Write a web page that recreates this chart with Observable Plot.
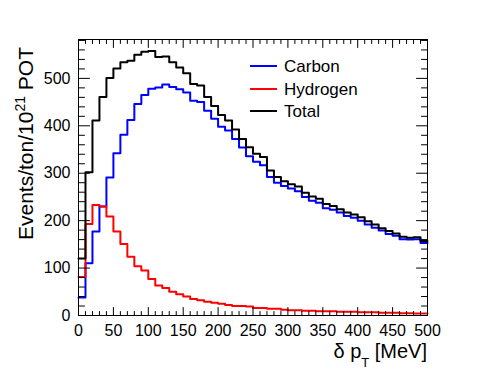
<!DOCTYPE html>
<html><head><meta charset="utf-8">
<script src="https://cdn.jsdelivr.net/npm/d3@7"></script>
<script src="https://cdn.jsdelivr.net/npm/@observablehq/plot@0.6"></script>
<style>
body{margin:0;background:#fff;}
#chart{width:491px;height:371px;}
svg{font-family:"Liberation Sans",Arial,sans-serif;}
</style></head><body><div id="chart"></div>
<script>
// bin edges of the δpT histogram (10 MeV bins)
const binEdges = d3.range(0, 510, 10);
const carbon = [38,110,177,230,291,342,381,412,446,465,478,481,487,482,477,470,453,450,432,415,398,390,372,354,336,324,317,292,280,273,268,262,250,242,238,226,223,217,210,206,200,192,185,179,172,168,161,160,161,153];
const hydrogen = [81,193,233,230,209,177,151,124,104,95,77,63,58,50,45,40,35,32,29,27,25,22,20,20,19,16,16,14,14,12,11,11,10,10,9,9,9,8,8,8,7,7,7,6,6,6,5,5,4,4];
const total = [120,302,411,461,501,521,534,537,550,556,558,545,546,534,523,511,488,485,461,442,423,411,392,372,355,341,334,306,292,283,277,272,259,251,246,235,231,224,217,213,207,199,192,184,178,173,166,164,165,157];
const seriesNames = ["Carbon","Hydrogen","Total"];
const seriesColors = ["#0000ff","#ff0000","#000000"];
const xMajor = d3.range(0, 501, 50);
const xMinor = d3.range(0, 501, 10).filter(v => v % 50 !== 0);
const yMajor = d3.range(0, 501, 100);
const yMinor = d3.range(20, 581, 20).filter(v => v % 100 !== 0);

function steps(values, name) {
  const pts = values.map((v, i) => ({x: binEdges[i], y: v, name}));
  pts.push({x: binEdges[values.length], y: values[values.length - 1], name});
  return pts;
}
const rows = [carbon, hydrogen, total].flatMap((vals, i) => steps(vals, seriesNames[i]));

const tickShape = {draw(ctx, l) { ctx.moveTo(0, 0); ctx.lineTo(0, -l); }};
function ticks(data, chan, frameAnchor, rotate, length) {
  return Plot.vector(data, {[chan]: d => d, frameAnchor, rotate, length, anchor: "start", shape: tickShape, stroke: "black", strokeWidth: 1});
}

const W = 491, H = 371;
const chart = Plot.plot({
  width: W, height: H,
  marginLeft: 78, marginRight: 64, marginTop: 39, marginBottom: 56,
  style: {fontFamily: '"Liberation Sans",Arial,sans-serif', fontSize: "16px", background: "white", color: "black"},
  x: {domain: [0, 500], axis: null},
  y: {domain: [0, 582], axis: null},
  color: {domain: seriesNames, range: seriesColors},
  marks: [
    Plot.line(rows, {x: "x", y: "y", z: "name", stroke: "name", curve: "step-after", strokeWidth: 2}),
    Plot.frame({stroke: "black", strokeWidth: 1}),
    ticks(xMajor, "x", "bottom", 0, 8),
    ticks(xMinor, "x", "bottom", 0, 4),
    ticks(xMajor, "x", "top", 180, 8),
    ticks(xMinor, "x", "top", 180, 4),
    ticks(yMajor, "y", "left", 90, 11),
    ticks(yMinor, "y", "left", 90, 6),
    ticks(yMajor, "y", "right", -90, 11),
    ticks(yMinor, "y", "right", -90, 6),
    Plot.axisX(xMajor, {anchor: "bottom", tickSize: 0, tickPadding: 9, fontSize: 16, label: null}),
    Plot.axisY(yMajor, {anchor: "left", tickSize: 0, tickPadding: 8, fontSize: 16, label: null})
  ]
});
document.getElementById("chart").appendChild(chart);

const svg = d3.select(chart);
const ff = '"Liberation Sans",Arial,sans-serif';
// y title
const yt = svg.append("text").attr("transform", "translate(33,47) rotate(-90)")
  .attr("text-anchor", "end").attr("font-size", 21).attr("font-family", ff).attr("fill", "black");
yt.append("tspan").text("Events/ton/10");
yt.append("tspan").attr("font-size", 14).attr("dy", -8).text("21");
yt.append("tspan").attr("dy", 8).text(" POT");
// x title
const xt = svg.append("text").attr("x", 427).attr("y", 358)
  .attr("text-anchor", "end").attr("font-size", 20).attr("font-family", ff).attr("fill", "black");
xt.append("tspan").text("δ p");
xt.append("tspan").attr("font-size", 13).attr("dy", 9).text("T");
xt.append("tspan").attr("dy", -9).text(" [MeV]");
// legend
const legY = [66, 89, 111];
seriesNames.forEach((n, i) => {
  svg.append("line").attr("x1", 250).attr("x2", 277).attr("y1", legY[i]).attr("y2", legY[i])
    .attr("stroke", seriesColors[i]).attr("stroke-width", 2);
  svg.append("text").attr("x", 284).attr("y", legY[i]).attr("dy", "0.36em")
    .attr("text-anchor", "start")
    .attr("font-size", 17).attr("font-family", ff).attr("fill", "black").text(n);
});
</script></body></html>
